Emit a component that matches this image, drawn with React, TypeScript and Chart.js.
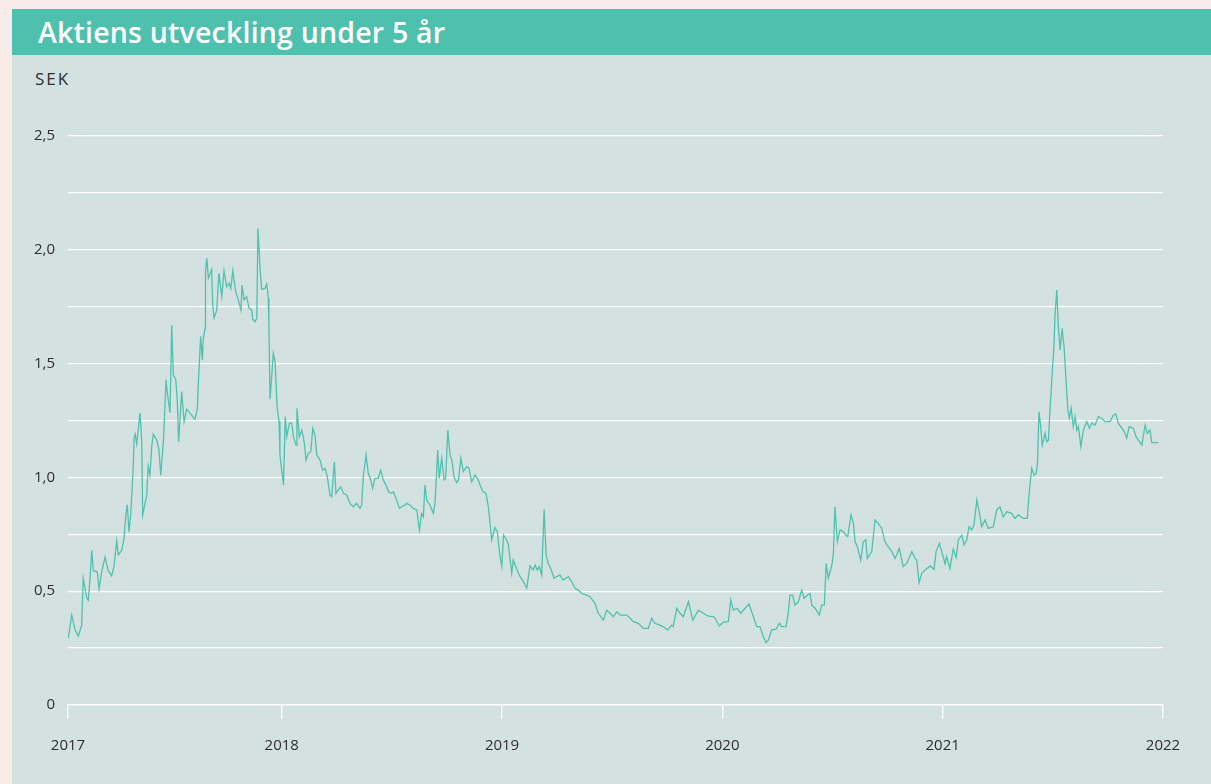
import React, { useEffect, useRef } from "react";
import { Chart, registerables } from "chart.js";

Chart.register(...registerables);

const TITLE = "Aktiens utveckling under 5 år";
const UNIT = "SEK";

const X_MIN = 2017.03;
const X_MAX = 2022;
const yearTicks = [X_MIN, 2018, 2019, 2020, 2021, 2022];
const yTickStep = 0.25;

const date2017 = [2017.031, 2017.047, 2017.062, 2017.077, 2017.092, 2017.099, 2017.115, 2017.122, 2017.13, 2017.138, 2017.145, 2017.163, 2017.171, 2017.183, 2017.198, 2017.213, 2017.228, 2017.239, 2017.251, 2017.258, 2017.274, 2017.284, 2017.292, 2017.299, 2017.307, 2017.315, 2017.326, 2017.33, 2017.335, 2017.342, 2017.357, 2017.365, 2017.369, 2017.387, 2017.394, 2017.402, 2017.41, 2017.417, 2017.433, 2017.443, 2017.451, 2017.463, 2017.47, 2017.475, 2017.481, 2017.493, 2017.501, 2017.508, 2017.519, 2017.526, 2017.532, 2017.546, 2017.557, 2017.569, 2017.591, 2017.606, 2017.617, 2017.621, 2017.632, 2017.64, 2017.644, 2017.652, 2017.654, 2017.66, 2017.667, 2017.682, 2017.687, 2017.693, 2017.705, 2017.715, 2017.728, 2017.738, 2017.75, 2017.761, 2017.769, 2017.778, 2017.791, 2017.803, 2017.815, 2017.82, 2017.829, 2017.841, 2017.852, 2017.864, 2017.868, 2017.879, 2017.887, 2017.892, 2017.902, 2017.909, 2017.924, 2017.932, 2017.936, 2017.939, 2017.942, 2017.945, 2017.947, 2017.962, 2017.97, 2017.979, 2017.988, 2017.992];
const price2017 = [0.293, 0.395, 0.33, 0.303, 0.35, 0.557, 0.47, 0.46, 0.557, 0.68, 0.59, 0.585, 0.51, 0.585, 0.65, 0.59, 0.567, 0.61, 0.72, 0.66, 0.68, 0.73, 0.83, 0.88, 0.76, 0.84, 1.04, 1.17, 1.19, 1.147, 1.284, 1.15, 0.835, 0.92, 1.05, 1.01, 1.135, 1.19, 1.164, 1.12, 1.01, 1.157, 1.31, 1.43, 1.37, 1.284, 1.67, 1.45, 1.43, 1.34, 1.157, 1.377, 1.245, 1.3, 1.274, 1.255, 1.3, 1.4, 1.62, 1.516, 1.61, 1.655, 1.904, 1.963, 1.875, 1.914, 1.757, 1.7, 1.735, 1.897, 1.794, 1.908, 1.838, 1.853, 1.83, 1.908, 1.816, 1.78, 1.735, 1.845, 1.78, 1.794, 1.743, 1.735, 1.695, 1.684, 1.7, 2.094, 1.911, 1.826, 1.83, 1.85, 1.82, 1.787, 1.66, 1.47, 1.343, 1.545, 1.508, 1.31, 1.245, 1.098];

const date2018 = [2018.008, 2018.016, 2018.023, 2018.035, 2018.045, 2018.053, 2018.065, 2018.069, 2018.08, 2018.091, 2018.103, 2018.11, 2018.121, 2018.132, 2018.141, 2018.151, 2018.159, 2018.174, 2018.186, 2018.197, 2018.207, 2018.219, 2018.227, 2018.239, 2018.246, 2018.257, 2018.268, 2018.28, 2018.295, 2018.31, 2018.325, 2018.34, 2018.355, 2018.363, 2018.37, 2018.383, 2018.393, 2018.404, 2018.413, 2018.423, 2018.438, 2018.449, 2018.461, 2018.477, 2018.484, 2018.499, 2018.507, 2018.522, 2018.534, 2018.545, 2018.56, 2018.567, 2018.582, 2018.597, 2018.613, 2018.625, 2018.635, 2018.643, 2018.65, 2018.658, 2018.673, 2018.688, 2018.696, 2018.708, 2018.715, 2018.726, 2018.737, 2018.744, 2018.754, 2018.764, 2018.772, 2018.782, 2018.794, 2018.802, 2018.813, 2018.824, 2018.84, 2018.85, 2018.862, 2018.877, 2018.892, 2018.903, 2018.915, 2018.927, 2018.938, 2018.953, 2018.968, 2018.979, 2018.988, 2018.999];
const price2018 = [0.967, 1.267, 1.179, 1.238, 1.238, 1.18, 1.142, 1.304, 1.179, 1.208, 1.15, 1.076, 1.106, 1.113, 1.216, 1.186, 1.098, 1.076, 1.032, 1.04, 1.003, 0.923, 0.915, 1.069, 0.93, 0.945, 0.959, 0.93, 0.923, 0.886, 0.871, 0.886, 0.864, 0.879, 1.003, 1.098, 1.018, 0.989, 0.952, 0.996, 0.996, 1.032, 0.989, 0.959, 0.937, 0.93, 0.937, 0.9, 0.864, 0.871, 0.879, 0.886, 0.879, 0.864, 0.857, 0.769, 0.842, 0.827, 0.967, 0.9, 0.879, 0.842, 0.886, 1.12, 0.996, 1.084, 0.989, 0.996, 1.208, 1.098, 1.076, 1.003, 0.977, 0.989, 1.084, 1.025, 1.047, 1.04, 0.981, 1.01, 0.989, 0.959, 0.937, 0.93, 0.871, 0.725, 0.78, 0.76, 0.674, 0.608];

const date2019 = [2019.007, 2019.021, 2019.029, 2019.044, 2019.051, 2019.067, 2019.082, 2019.097, 2019.112, 2019.127, 2019.142, 2019.15, 2019.16, 2019.169, 2019.18, 2019.191, 2019.2, 2019.21, 2019.221, 2019.236, 2019.248, 2019.263, 2019.278, 2019.301, 2019.316, 2019.331, 2019.346, 2019.362, 2019.384, 2019.399, 2019.422, 2019.437, 2019.46, 2019.475, 2019.49, 2019.505, 2019.521, 2019.536, 2019.566, 2019.581, 2019.596, 2019.619, 2019.641, 2019.664, 2019.679, 2019.694, 2019.717, 2019.732, 2019.752, 2019.77, 2019.777, 2019.793, 2019.808, 2019.823, 2019.846, 2019.853, 2019.866, 2019.891, 2019.914, 2019.936, 2019.959, 2019.967, 2019.986];
const price2019 = [0.747, 0.725, 0.703, 0.579, 0.637, 0.595, 0.564, 0.542, 0.513, 0.611, 0.593, 0.615, 0.593, 0.608, 0.571, 0.86, 0.659, 0.622, 0.6, 0.557, 0.564, 0.571, 0.549, 0.564, 0.542, 0.513, 0.505, 0.49, 0.483, 0.476, 0.447, 0.403, 0.373, 0.417, 0.403, 0.388, 0.41, 0.395, 0.395, 0.381, 0.366, 0.359, 0.337, 0.337, 0.381, 0.359, 0.351, 0.344, 0.33, 0.351, 0.344, 0.425, 0.403, 0.388, 0.454, 0.425, 0.373, 0.417, 0.403, 0.39, 0.388, 0.381, 0.347];

const date2020 = [2020.004, 2020.027, 2020.038, 2020.05, 2020.068, 2020.083, 2020.103, 2020.121, 2020.141, 2020.156, 2020.171, 2020.186, 2020.198, 2020.209, 2020.224, 2020.244, 2020.259, 2020.27, 2020.289, 2020.299, 2020.307, 2020.319, 2020.33, 2020.345, 2020.36, 2020.371, 2020.386, 2020.398, 2020.406, 2020.421, 2020.44, 2020.451, 2020.463, 2020.471, 2020.481, 2020.497, 2020.504, 2020.511, 2020.522, 2020.534, 2020.549, 2020.56, 2020.569, 2020.584, 2020.595, 2020.602, 2020.613, 2020.628, 2020.64, 2020.651, 2020.658, 2020.678, 2020.693, 2020.708, 2020.723, 2020.738, 2020.753, 2020.769, 2020.784, 2020.803, 2020.821, 2020.837, 2020.86, 2020.875, 2020.882, 2020.893, 2020.905, 2020.92, 2020.943, 2020.961, 2020.97, 2020.985, 2020.996];
const price2020 = [0.364, 0.366, 0.461, 0.417, 0.425, 0.403, 0.425, 0.444, 0.388, 0.344, 0.344, 0.3, 0.274, 0.286, 0.33, 0.333, 0.359, 0.344, 0.344, 0.403, 0.483, 0.483, 0.439, 0.454, 0.505, 0.469, 0.483, 0.49, 0.439, 0.425, 0.395, 0.439, 0.439, 0.622, 0.557, 0.615, 0.666, 0.871, 0.718, 0.769, 0.762, 0.747, 0.74, 0.835, 0.798, 0.718, 0.695, 0.637, 0.718, 0.725, 0.644, 0.674, 0.813, 0.798, 0.776, 0.718, 0.695, 0.674, 0.644, 0.688, 0.608, 0.622, 0.674, 0.644, 0.637, 0.537, 0.579, 0.593, 0.611, 0.596, 0.674, 0.71, 0.674];

const date2021 = [2021.011, 2021.018, 2021.033, 2021.048, 2021.061, 2021.071, 2021.087, 2021.097, 2021.109, 2021.12, 2021.132, 2021.142, 2021.155, 2021.166, 2021.177, 2021.192, 2021.207, 2021.23, 2021.245, 2021.26, 2021.275, 2021.291, 2021.313, 2021.328, 2021.343, 2021.366, 2021.384, 2021.393, 2021.404, 2021.415, 2021.424, 2021.43, 2021.437, 2021.445, 2021.452, 2021.465, 2021.472, 2021.48, 2021.487, 2021.498, 2021.505, 2021.51, 2021.518, 2021.525, 2021.533, 2021.542, 2021.551, 2021.56, 2021.568, 2021.575, 2021.583, 2021.593, 2021.601, 2021.609, 2021.616, 2021.627, 2021.639, 2021.654, 2021.666, 2021.677, 2021.692, 2021.707, 2021.722, 2021.737, 2021.76, 2021.775, 2021.786, 2021.797, 2021.813, 2021.828, 2021.835, 2021.847, 2021.865, 2021.878, 2021.888, 2021.904, 2021.919, 2021.929, 2021.941, 2021.949, 2021.979];
const price2021 = [0.62, 0.652, 0.6, 0.685, 0.648, 0.725, 0.747, 0.703, 0.725, 0.783, 0.769, 0.791, 0.9, 0.849, 0.783, 0.813, 0.776, 0.783, 0.857, 0.871, 0.827, 0.849, 0.842, 0.82, 0.835, 0.82, 0.82, 0.937, 1.04, 1.01, 1.018, 1.054, 1.289, 1.223, 1.142, 1.194, 1.157, 1.164, 1.296, 1.472, 1.574, 1.713, 1.823, 1.662, 1.56, 1.655, 1.574, 1.428, 1.296, 1.26, 1.304, 1.223, 1.267, 1.208, 1.223, 1.135, 1.208, 1.245, 1.216, 1.238, 1.23, 1.267, 1.26, 1.245, 1.245, 1.274, 1.279, 1.238, 1.216, 1.194, 1.172, 1.223, 1.216, 1.179, 1.164, 1.142, 1.23, 1.194, 1.208, 1.153, 1.153];

const PAGE_BG = "#f7ece7";
const PANEL_BG = "#d3e1e1";
const TEAL = "#4dc1ae";
const LINE = "#4fc2ad";
const TEXT = "#2e2e2e";
const FONT = "'Open Sans', 'DejaVu Sans', sans-serif";

function formatSek(v: number): string {
  if (Math.abs(v) < 1e-9) return "0";
  return v.toFixed(1).replace(".", ",");
}

export default function App() {
  const ref = useRef<HTMLCanvasElement | null>(null);

  useEffect(() => {
    document.body.style.margin = "0";
    document.body.style.background = PAGE_BG;
    const dates = [...date2017, ...date2018, ...date2019, ...date2020, ...date2021];
    const prices = [...price2017, ...price2018, ...price2019, ...price2020, ...price2021];
    const points = dates.map((d, i) => ({ x: d, y: prices[i] }));

    const chart = new Chart(ref.current as HTMLCanvasElement, {
      type: "line",
      data: {
        datasets: [
          {
            data: points,
            borderColor: LINE,
            borderWidth: 1.3,
            pointRadius: 0,
            tension: 0,
            fill: false,
          },
        ],
      },
      options: {
        animation: false,
        responsive: false,
        maintainAspectRatio: false,
        layout: { padding: { top: 136, right: 48, left: 0, bottom: 0 } },
        plugins: { legend: { display: false }, tooltip: { enabled: false }, title: { display: false } },
        scales: {
          x: {
            type: "linear",
            min: X_MIN,
            max: X_MAX,
            afterBuildTicks: (s: any) => {
              s.ticks = yearTicks.map((v) => ({ value: v }));
            },
            afterFit: (s: any) => {
              s.height = 79;
            },
            grid: {
              drawOnChartArea: false,
              drawTicks: true,
              tickLength: 14,
              color: "#ffffff",
              lineWidth: 1.3,
            },
            border: { display: true, color: "#ffffff", width: 1.3 },
            ticks: {
              autoSkip: false,
              maxRotation: 0,
              padding: 18,
              color: TEXT,
              font: { family: FONT, size: 15 },
              callback: (v: any) => String(Math.floor(Number(v))),
            },
          },
          y: {
            min: 0,
            max: 2.5,
            afterFit: (s: any) => {
              s.width = 68;
            },
            grid: { color: "#ffffff", lineWidth: 1.3, drawTicks: false },
            border: { display: false },
            ticks: {
              stepSize: yTickStep,
              padding: 13,
              color: TEXT,
              font: { family: FONT, size: 15 },
              callback: (v: any) => {
                const n = Number(v);
                return Math.abs(n * 2 - Math.round(n * 2)) < 1e-6 ? formatSek(n) : "";
              },
            },
          },
        },
      },
    });
    return () => chart.destroy();
  }, []);

  return (
    <div style={{ position: "relative", width: 1211, height: 784, background: PAGE_BG, overflow: "hidden" }}>
      <div style={{ position: "absolute", left: 12, top: 9, width: 1199, height: 775, background: PANEL_BG }} />
      <div
        style={{
          position: "absolute",
          left: 12,
          top: 9,
          width: 1199,
          height: 46,
          background: TEAL,
          color: "#ffffff",
          fontFamily: FONT,
          fontWeight: 600,
          fontSize: 28.5,
          lineHeight: "46px",
          paddingLeft: 26,
          boxSizing: "border-box",
          whiteSpace: "nowrap",
          letterSpacing: 0.2,
        }}
      >
        {TITLE}
      </div>
      <div
        style={{
          position: "absolute",
          left: 35,
          top: 68,
          color: TEXT,
          fontFamily: FONT,
          fontSize: 17,
          lineHeight: "22px",
          letterSpacing: 2,
        }}
      >
        {UNIT}
      </div>
      <canvas ref={ref} width={1211} height={784} style={{ position: "absolute", left: 0, top: 0, width: 1211, height: 784 }} />
    </div>
  );
}
